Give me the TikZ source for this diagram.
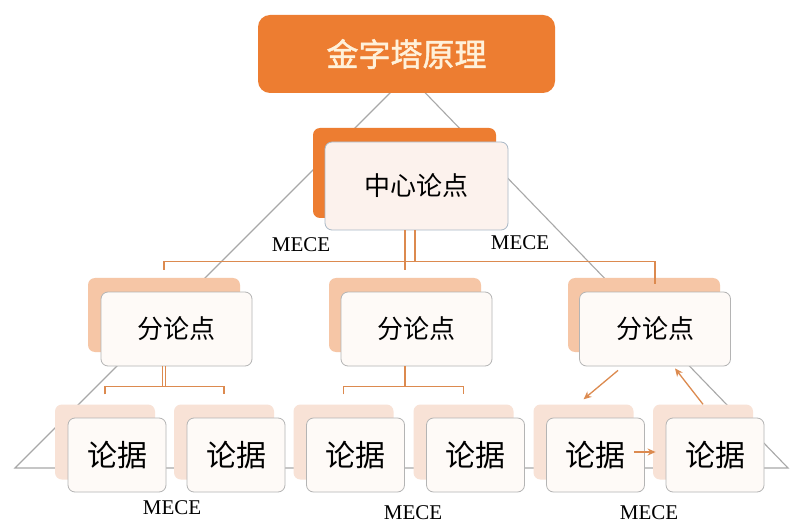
\documentclass[tikz,border=0pt]{standalone}
\usepackage{fontspec}
\setmainfont{Liberation Serif}
\newfontfamily\cjk{Noto Sans CJK SC}
\newfontfamily\cjkb[FakeBold=1.5]{Noto Sans CJK SC}
\usetikzlibrary{calc,arrows.meta}
\definecolor{titleor}{HTML}{ED7D31}
\definecolor{titletxt}{HTML}{FFF1DA}
\definecolor{shadowmid}{HTML}{F6C6A6}
\definecolor{shadowlow}{HTML}{F8E2D6}
\definecolor{frontfill}{HTML}{FEFAF7}
\definecolor{ctrfill}{HTML}{FCF2ED}
\definecolor{boxline}{HTML}{B4B4B4}
\definecolor{ctrline}{HTML}{A9B8C6}
\definecolor{connor}{HTML}{DC8A4F}
\definecolor{trigray}{HTML}{A8A8A8}
\begin{document}
\begin{tikzpicture}[x=1pt,y=-1pt,
  tri/.style={draw=trigray, line width=1.1},
  titlebox/.style={fill=titleor, rounded corners=12, minimum width=297, minimum height=78, inner sep=0, text=titletxt, font=\cjkb\fontsize{32}{32}\selectfont},
  ctrshadow/.style={fill=titleor, rounded corners=7, minimum width=183, minimum height=90, inner sep=0},
  ctrbox/.style={draw=ctrline, fill=ctrfill, line width=0.8, rounded corners=7, minimum width=183, minimum height=88, inner sep=0, font=\cjk\fontsize{26}{26}\selectfont},
  midshadow/.style={fill=shadowmid, rounded corners=7, minimum width=152, minimum height=74, inner sep=0},
  midbox/.style={draw=boxline, fill=frontfill, line width=0.8, rounded corners=7, minimum width=151, minimum height=74, inner sep=0, font=\cjk\fontsize{26}{26}\selectfont},
  lowshadow/.style={fill=shadowlow, rounded corners=7, minimum width=100, minimum height=75, inner sep=0},
  lowbox/.style={draw=boxline, fill=frontfill, line width=0.8, rounded corners=7, minimum width=98, minimum height=74, inner sep=0, font=\cjk\fontsize{30}{30}\selectfont},
  conn/.style={draw=connor, line width=1.3},
  arr/.style={draw=connor, line width=1.3, -{Stealth[length=8pt,width=7pt]}},
  mece/.style={font=\fontsize{21}{21}\selectfont, inner sep=0}
]
\fill[white] (0,0) rectangle (800,529);
\useasboundingbox (0,0) rectangle (800,529);

% pyramid outline
\coordinate (apex) at (408,75);
\coordinate (bl) at (15,468);
\coordinate (br) at (788,468);
\draw[tri] (apex) -- (bl) -- (br) -- cycle;

% title
\node[titlebox] (title) at (406.5,54) {金字塔原理};

% centre
\node[ctrshadow] (ctrS) at (404.5,173) {};
\node[ctrbox] (ctr) at (416.5,186) {中心论点};

% second level
\node[midshadow] (fS1) at (164,315) {};
\node[midbox] (f1) at (176.5,329) {分论点};
\node[midshadow] (fS2) at (405,315) {};
\node[midbox] (f2) at (416.5,329) {分论点};
\node[midshadow] (fS3) at (644,315) {};
\node[midbox] (f3) at (655,329) {分论点};

% third level
\foreach \i/\x in {1/117,2/236,3/355.5,4/475.5,5/595.5,6/715}{
  \node[lowshadow] (lS\i) at (\x-12,442) {};
  \node[lowbox] (l\i) at (\x,455) {论据};
}

% connectors centre -> second level
\draw[conn] (ctr.south -| fS2.north) -- ([yshift=8]fS2.north);
\draw[conn] ($(ctr.south -| fS2.north)+(10,0)$) -- ++(0,32);
\draw[conn] ([yshift=8]fS1.north) -- ++(0,-8) -| ([yshift=8]f3.north);

% connectors second -> third level (left, doubled stem)
\draw[conn, line width=1] ($(f1.south -| fS1.south)+(-1.2,0)$) -- ++(0,21);
\draw[conn, line width=1] ($(f1.south -| fS1.south)+(1.8,0)$) -- ++(0,21);
\draw[conn] ([yshift=10]lS1.north) -- ++(0,-8) -| ([yshift=10]lS2.north);
% (middle)
\draw[conn, line width=1.8] (f2.south -| fS2.south) -- ++(0,21);
\draw[conn] ([yshift=10]lS3.north) -- ++(0,-8) -| ([yshift=10]lS4.north);

% arrows (right group)
\draw[arr] ([xshift=-37,yshift=-4]f3.south) -- ([yshift=5]lS5.north);
\draw[arr] (lS6.north) -- ([xshift=20,yshift=-2]f3.south);
\draw[arr] ([xshift=-11,yshift=3]l5.east) -- ([xshift=-10,yshift=3]l6.west);

% MECE labels
\node[mece] (m1) at (301,245) {MECE};
\node[mece] (m2) at (520,243) {MECE};
\node[mece] (m3) at (172,508) {MECE};
\node[mece] (m4) at (413,513) {MECE};
\node[mece] (m5) at (649,513) {MECE};
\end{tikzpicture}
\end{document}
